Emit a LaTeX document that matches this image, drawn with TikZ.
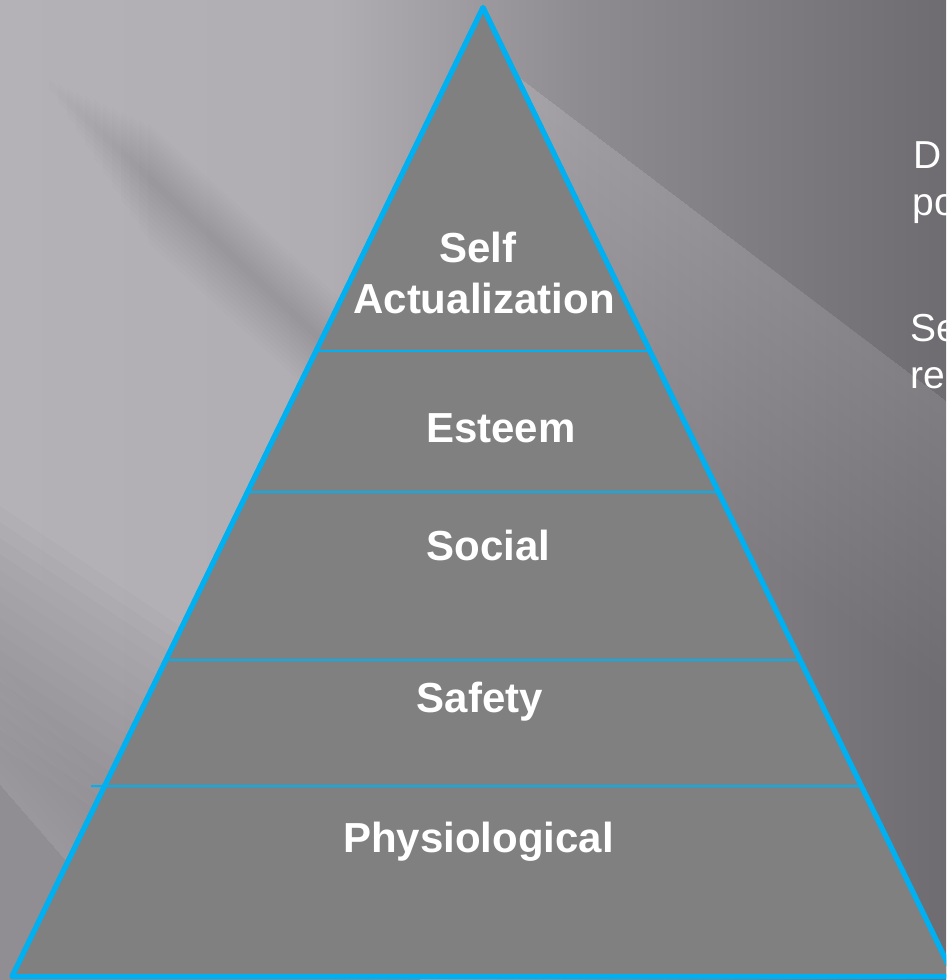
\documentclass[tikz,border=0pt]{standalone}
\usepackage{fontspec}
\setmainfont{Liberation Sans}
\usetikzlibrary{calc}
\definecolor{bgL}{RGB}{180,177,183}
\definecolor{bgLb}{RGB}{176,173,179}
\definecolor{bgM}{RGB}{142,140,145}
\definecolor{bgR}{RGB}{110,108,113}
\definecolor{pyrfill}{RGB}{128,128,128}
\definecolor{pyrline}{RGB}{0,176,240}
\tikzset{
  levellabel/.style={text=white, font=\fontsize{42}{50}\selectfont\bfseries, inner sep=0pt, anchor=base},
  sidetext/.style={text=white, font=\fontsize{39}{47}\selectfont, inner sep=0pt, anchor=base west},
  pyroutline/.style={draw=pyrline, line width=5pt, line join=round, fill=pyrfill},
  divider/.style={draw=pyrline, line width=2pt},
  lightlayer/.style={fill=white, opacity=#1, draw=none},
  darklayer/.style={fill=black, opacity=#1, draw=none},
}
\begin{document}
\begin{tikzpicture}[x=1pt,y=-1pt]
\useasboundingbox (0,0) rectangle (946,980);
\clip (0,0) rectangle (946,980);
% background
\shade[left color=bgL, right color=bgLb] (0,0) rectangle (331,980);
\shade[left color=bgLb, right color=bgM] (330,0) rectangle (581,980);
\shade[left color=bgM, right color=bgR] (580,0) rectangle (946,980);
% light streak upper right (sharp upper edge, soft lower side)
\foreach \k in {1,...,16}{
  \fill[lightlayer=0.011] (520,78) -- (946,401) -- (946,{401+18*\k}) -- (520,{78+18*\k}) -- cycle;
}
% soft dark streak upper left
\foreach \k in {1,...,12}{
  \fill[darklayer=0.009] ({40+9*\k},{75+9*\k-5*\k}) -- (380,{395-5*\k}) -- (380,{395+5*\k}) -- ({40+9*\k},{75+9*\k+5*\k}) -- cycle;
}
% darkening lower left
\foreach \k in {1,...,16}{
  \fill[darklayer=0.013] (0,{490+16*\k}) -- (420,{770+16*\k}) -- (420,980) -- (0,980) -- cycle;
}
% light streak lower left (sharp lower edge, soft upper side)
\foreach \k in {1,...,10}{
  \fill[lightlayer=0.011] (0,785) -- (130,935) -- (130,{935-12*\k}) -- (0,{785-12*\k}) -- cycle;
}
% pyramid
\coordinate (apex) at (483,7.5);
\coordinate (bl) at (12,976.5);
\coordinate (br) at (954,976.5);
\coordinate (d4start) at (91,786);
\path[pyroutline] (apex) -- (bl) -- (br) -- cycle;
\draw[divider] ($(apex)!0.3545!(bl)$) -- ($(apex)!0.3545!(br)$);
\draw[divider] ($(apex)!0.5!(bl)$) -- ($(apex)!0.5!(br)$);
\draw[divider] ($(apex)!0.6734!(bl)$) -- ($(apex)!0.6734!(br)$);
\draw[divider] (d4start) -- ($(apex)!0.8034!(br)$);
\draw[draw=pyrline, line width=5pt, line join=round] (apex) -- (bl) -- (br) -- cycle;
% labels
\node[levellabel] (self) at (478,262) {Self};
\node[levellabel] (actual) at (484,313) {Actualization};
\node[levellabel] (esteem) at (501,442) {Esteem};
\node[levellabel] (social) at (488.5,560) {Social};
\node[levellabel] (safety) at (480,712) {Safety};
\node[levellabel] (physio) at (478.5,852) {Physiological};
% side text (cut off by the page edge, as in the reference)
\node[sidetext] (s1) at (913,168) {D};
\node[sidetext] (s2) at (912.5,215) {po};
\node[sidetext] (s3) at (910,341) {Se};
\node[sidetext] (s4) at (910.5,388) {re};
\end{tikzpicture}
\end{document}
